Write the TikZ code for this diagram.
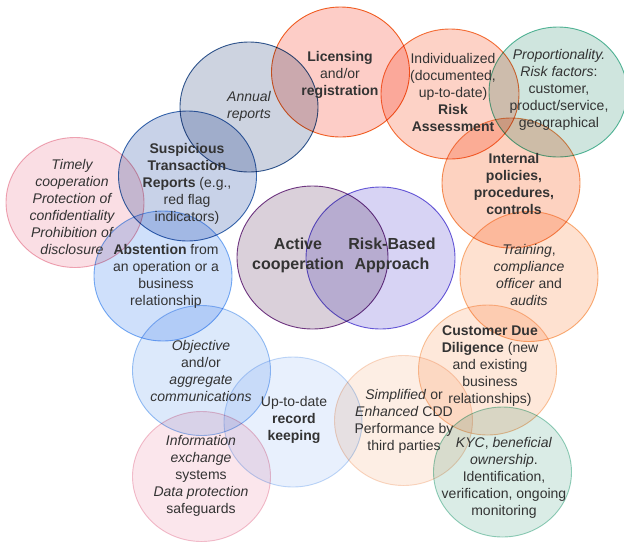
\documentclass[tikz,border=0pt]{standalone}
\usepackage{fontspec}
\setmainfont{Liberation Sans}
\definecolor{txt}{RGB}{51,51,51}
\definecolor{fAnn}{RGB}{205,211,224}\definecolor{dAnn}{RGB}{52,92,150}
\definecolor{fSus}{RGB}{200,210,232}\definecolor{dSus}{RGB}{60,110,180}
\definecolor{fTim}{RGB}{250,222,228}\definecolor{dTim}{RGB}{240,170,185}
\definecolor{fLic}{RGB}{253,205,199}\definecolor{dLic}{RGB}{242,105,40}
\definecolor{fRA}{RGB}{253,210,198}\definecolor{dRA}{RGB}{245,120,60}
\definecolor{fPro}{RGB}{207,229,222}\definecolor{dPro}{RGB}{90,190,160}
\definecolor{fInt}{RGB}{253,210,192}\definecolor{dInt}{RGB}{245,150,90}
\definecolor{fTra}{RGB}{254,225,208}\definecolor{dTra}{RGB}{250,180,125}
\definecolor{fAct}{RGB}{218,208,218}\definecolor{dAct}{RGB}{120,60,140}
\definecolor{fRB}{RGB}{215,211,244}\definecolor{dRB}{RGB}{110,95,220}
\definecolor{fCDD}{RGB}{254,232,218}\definecolor{dCDD}{RGB}{250,200,160}
\definecolor{fKYC}{RGB}{218,236,230}\definecolor{dKYC}{RGB}{150,210,190}
\definecolor{fSim}{RGB}{253,238,228}\definecolor{dSim}{RGB}{250,218,198}
\definecolor{fRec}{RGB}{232,240,253}\definecolor{dRec}{RGB}{195,218,248}
\definecolor{fObj}{RGB}{220,233,251}\definecolor{dObj}{RGB}{155,195,245}
\definecolor{fInf}{RGB}{251,230,236}\definecolor{dInf}{RGB}{243,195,208}
\definecolor{fAbs}{RGB}{207,224,251}\definecolor{dAbs}{RGB}{125,178,245}
\tikzset{
  bub/.style={line width=0.9pt, blend mode=multiply},
  lbl/.style={text=txt, align=center, font=\fontsize{14}{17}\selectfont, inner sep=0pt, yshift=-1.5pt},
  big/.style={text=txt, align=center, font=\fontsize{16}{20}\selectfont\bfseries, inner sep=0pt, yshift=-1.5pt},
}
\begin{document}
\begin{tikzpicture}[x=1pt,y=-1pt]
\useasboundingbox (0,0) rectangle (624,542);
\fill[white] (0,0) rectangle (624,542);
% bubbles
\path[bub, fill=fAnn, draw=dAnn] (249,107) ellipse [x radius=69pt, y radius=65pt];
\path[bub, fill=fSus, draw=dSus] (187.5,176) ellipse [x radius=69pt, y radius=65pt];
\path[bub, fill=fTim, draw=dTim] (75,202.5) ellipse [x radius=69pt, y radius=65pt];
\path[bub, fill=fLic, draw=dLic] (340.5,72) ellipse [x radius=69pt, y radius=65pt];
\path[bub, fill=fRA, draw=dRA] (450,94) ellipse [x radius=69pt, y radius=65pt];
\path[bub, fill=fPro, draw=dPro] (558,92) ellipse [x radius=69pt, y radius=65pt];
\path[bub, fill=fInt, draw=dInt] (511,183) ellipse [x radius=69pt, y radius=65pt];
\path[bub, fill=fTra, draw=dTra] (529,276.5) ellipse [x radius=69pt, y radius=65pt];
\path[bub, fill=fAct, draw=dAct] (312.5,257.5) ellipse [x radius=75.5pt, y radius=71.5pt];
\path[bub, fill=fRB, draw=dRB] (380.5,258) ellipse [x radius=74.5pt, y radius=71pt];
\path[bub, fill=fCDD, draw=dCDD] (487.5,370) ellipse [x radius=69pt, y radius=65pt];
\path[bub, fill=fKYC, draw=dKYC] (502.5,472) ellipse [x radius=69pt, y radius=65pt];
\path[bub, fill=fSim, draw=dSim] (403.5,420.5) ellipse [x radius=69pt, y radius=65pt];
\path[bub, fill=fRec, draw=dRec] (293,422) ellipse [x radius=69pt, y radius=65pt];
\path[bub, fill=fObj, draw=dObj] (201.5,370.5) ellipse [x radius=69pt, y radius=65pt];
\path[bub, fill=fInf, draw=dInf] (201.5,476.5) ellipse [x radius=69pt, y radius=65pt];
\path[bub, fill=fAbs, draw=dAbs] (163,276) ellipse [x radius=69pt, y radius=65pt];
% labels
\node[lbl] (ann) at (249,105) {\itshape Annual\\\itshape reports};
\node[lbl] (sus) at (187,182) {\bfseries Suspicious\\\bfseries Transaction\\\textbf{Reports} (e.g.,\\red flag\\indicators)};
\node[lbl] (tim) at (72,205.5) {\itshape Timely\\\itshape cooperation\\\itshape Protection of\\\itshape confidentiality\\\itshape Prohibition of\\\itshape disclosure};
\node[lbl] (lic) at (340,73) {\bfseries Licensing\\and/or\\\bfseries registration};
\node[lbl] (ra) at (453,90.5) {Individualized\\(documented,\\up-to-date)\\\bfseries Risk\\\bfseries Assessment};
\node[lbl] (pro) at (559,88) {\itshape Proportionality.\\\textit{Risk factors}:\\customer,\\product/service,\\geographical};
\node[lbl] (int) at (514,182.5) {\bfseries Internal\\\bfseries policies,\\\bfseries procedures,\\\bfseries controls};
\node[lbl] (tra) at (529,273.5) {\textit{Training},\\\itshape compliance\\\textit{officer} and\\\itshape audits};
\node[big] (act) at (298,254) {Active\\cooperation};
\node[big] (rb) at (392,254) {Risk-Based\\Approach};
\node[lbl] (abs) at (166,275) {\textbf{Abstention} from\\an operation or a\\business\\relationship};
\node[lbl] (obj) at (201,369) {\itshape Objective\\and/or\\\itshape aggregate\\\itshape communications};
\node[lbl] (inf) at (201,474) {\itshape Information\\\itshape exchange\\systems\\\itshape Data protection\\safeguards};
\node[lbl] (rec) at (294,418) {Up-to-date\\\bfseries record\\\bfseries keeping};
\node[lbl] (sim) at (404,420) {\textit{Simplified} or\\\textit{Enhanced} CDD\\Performance by\\third parties};
\node[lbl] (cdd) at (490,365) {\bfseries Customer Due\\\textbf{Diligence} (new\\and existing\\business\\relationships)};
\node[lbl] (kyc) at (504,476) {\textit{KYC}, \textit{beneficial}\\\textit{ownership}.\\Identification,\\verification, ongoing\\monitoring};
\end{tikzpicture}
\end{document}
